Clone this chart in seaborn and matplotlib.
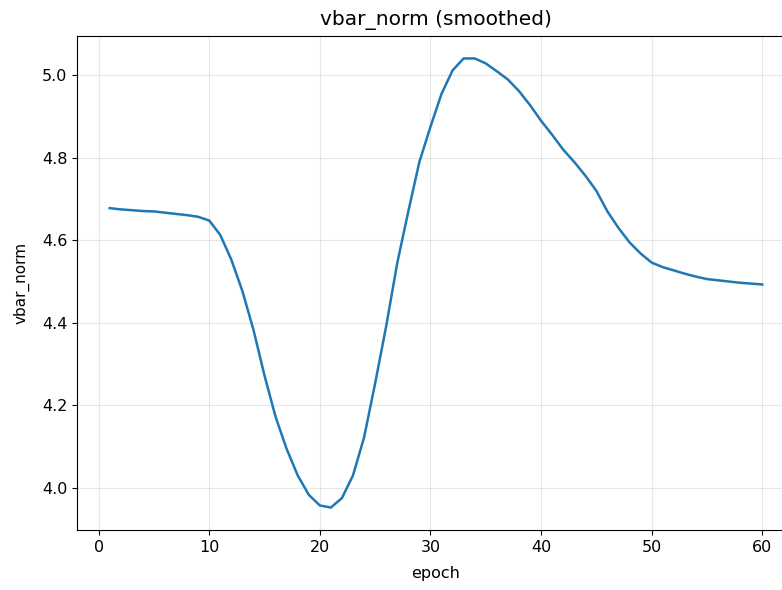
import matplotlib
matplotlib.use("Agg")
import matplotlib.pyplot as plt
import seaborn as sns
import pandas as pd

epochs = list(range(1, 61))
vbar_norm = [
    4.678, 4.675, 4.673, 4.671, 4.670, 4.667, 4.664, 4.661, 4.657, 4.648,
    4.613, 4.553, 4.477, 4.383, 4.272, 4.172, 4.094, 4.030, 3.983, 3.957,
    3.952, 3.975, 4.030, 4.122, 4.253, 4.392, 4.545, 4.670, 4.790, 4.875,
    4.955, 5.012, 5.041, 5.041, 5.029, 5.010, 4.990, 4.962, 4.928, 4.890,
    4.856, 4.820, 4.790, 4.757, 4.720, 4.670, 4.630, 4.595, 4.568, 4.546,
    4.535, 4.527, 4.519, 4.512, 4.506, 4.503, 4.500, 4.497, 4.495, 4.493,
]

df = pd.DataFrame({"epoch": epochs, "vbar_norm": vbar_norm})

fig = plt.figure(figsize=(7.82, 5.90), dpi=100)
ax = fig.add_axes([0.0985, 0.1017, 0.918, 0.8373])
sns.lineplot(data=df, x="epoch", y="vbar_norm", ax=ax, color="#1f77b4", linewidth=1.8)
ax.set_title("vbar_norm (smoothed)", fontsize=14.5, pad=8)
ax.set_xlabel("epoch", fontsize=11.5, labelpad=8)
ax.set_ylabel("vbar_norm", fontsize=11, labelpad=9)
ax.set_xticks([0, 10, 20, 30, 40, 50, 60])
ax.set_yticks([4.0, 4.2, 4.4, 4.6, 4.8, 5.0])
ax.tick_params(labelsize=11.5)
ax.grid(True, alpha=0.3)
fig.savefig("out.png", dpi=100)
